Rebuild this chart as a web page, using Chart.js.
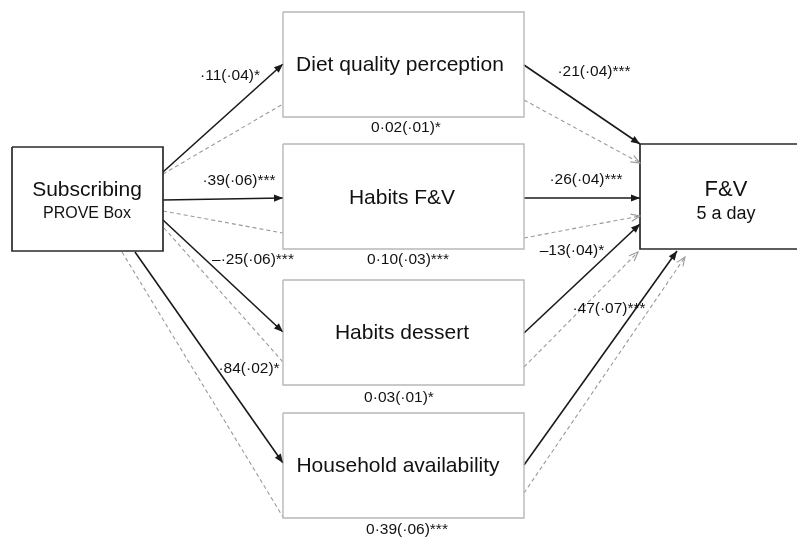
<!DOCTYPE html>
<html>
<head>
    <title>Path model: Subscribing PROVE Box to F&V 5 a day</title>
    <script src="https://cdn.jsdelivr.net/npm/chart.js@4.4.1/dist/chart.umd.min.js"></script>
    <style>
        html, body {
            margin: 0;
            padding: 0;
            background-color: white;
        }
        .chart-container {
            width: 797px;
            height: 537px;
        }
    </style>
</head>
<body>
    <div class="chart-container">
        <canvas id="pathChart"></canvas>
    </div>

    <script>
        // boxes of the path model (diagram units, y grows downwards)
        const boxLabels = ['Subscribing', 'Diet quality perception', 'Habits F&V', 'Habits dessert', 'Household availability', 'F&V'];
        const boxSubLabels = ['PROVE Box', '', '', '', '', '5 a day'];
        const boxLeft = [12, 283, 283, 283, 283, 640];
        const boxRight = [163, 524, 524, 524, 524, 802];
        const boxTop = [147, 12, 144, 280, 413, 144];
        const boxBottom = [251, 117, 249, 385, 518, 249];
        const boxTextX = [87, 400, 402, 402, 398, 726];
        const boxTextY = [190, 65, 198, 333, 466, 190];

        // direct paths (solid) and indirect/ci paths (dashed)
        const solidFrom = [[163, 172], [163, 200], [163, 220], [135, 252], [524, 65], [524, 198], [524, 333], [524, 465]];
        const solidTo = [[283, 64], [283, 198], [283, 332], [283, 463], [640, 144], [640, 198], [640, 224], [677, 251]];
        const dashFrom = [[163, 174], [163, 211], [164, 228], [122, 252], [524, 100], [524, 238], [524, 367], [524, 493]];
        const dashTo = [[283, 104], [283, 233], [283, 362], [283, 517], [640, 163], [640, 216], [638, 252], [685, 257]];
        const dashHead = [false, false, false, false, true, true, true, true];

        // coefficient labels
        const coefText = ['·11(·04)*', '·39(·06)***', '–·25(·06)***', '·84(·02)*', '·21(·04)***', '·26(·04)***', '–13(·04)*', '·47(·07)***',
                          '0·02(·01)*', '0·10(·03)***', '0·03(·01)*', '0·39(·06)***'];
        const coefX = [230, 239, 253, 249, 594, 586, 572, 609, 406, 408, 399, 407];
        const coefY = [76, 181, 260, 369, 72, 180, 251, 309, 128, 260, 398, 530];

        const SOLID = '#1a1a1a';
        const DASH = '#9a9a9a';

        const datasets = [];

        boxLabels.forEach((name, i) => {
            const outer = (i === 0 || i === 5);
            datasets.push({
                label: name,
                data: [
                    { x: boxLeft[i], y: boxTop[i] },
                    { x: boxRight[i], y: boxTop[i] },
                    { x: boxRight[i], y: boxBottom[i] },
                    { x: boxLeft[i], y: boxBottom[i] },
                    { x: boxLeft[i], y: boxTop[i] }
                ],
                showLine: true,
                borderColor: outer ? '#2a2a2a' : '#b8b8b8',
                borderWidth: outer ? 1.7 : 1.4,
                pointRadius: 0,
                tension: 0,
                fill: false,
                kind: 'box'
            });
        });

        solidFrom.forEach((p, i) => {
            datasets.push({
                data: [{ x: p[0], y: p[1] }, { x: solidTo[i][0], y: solidTo[i][1] }],
                showLine: true,
                borderColor: SOLID,
                borderWidth: 1.6,
                pointRadius: 0,
                kind: 'solid'
            });
        });

        dashFrom.forEach((p, i) => {
            datasets.push({
                data: [{ x: p[0], y: p[1] }, { x: dashTo[i][0], y: dashTo[i][1] }],
                showLine: true,
                borderColor: DASH,
                borderWidth: 1.1,
                borderDash: [4, 3],
                pointRadius: 0,
                kind: 'dash',
                head: dashHead[i]
            });
        });

        // arrow heads and text, drawn through the chart scales
        const diagramPlugin = {
            id: 'diagram',
            afterDatasetsDraw(chart) {
                const ctx = chart.ctx;
                const xs = chart.scales.x;
                const ys = chart.scales.y;

                chart.data.datasets.forEach(ds => {
                    if (ds.kind === 'box') return;
                    if (ds.kind === 'dash' && !ds.head) return;
                    const a = ds.data[0], b = ds.data[1];
                    const x1 = xs.getPixelForValue(a.x), y1 = ys.getPixelForValue(a.y);
                    const x2 = xs.getPixelForValue(b.x), y2 = ys.getPixelForValue(b.y);
                    const ang = Math.atan2(y2 - y1, x2 - x1);
                    const len = 9, half = 3.6;
                    const bx = x2 - len * Math.cos(ang), by = y2 - len * Math.sin(ang);
                    const px = -Math.sin(ang) * half, py = Math.cos(ang) * half;
                    ctx.save();
                    if (ds.kind === 'solid') {
                        ctx.fillStyle = SOLID;
                        ctx.beginPath();
                        ctx.moveTo(x2, y2);
                        ctx.lineTo(bx + px, by + py);
                        ctx.lineTo(bx - px, by - py);
                        ctx.closePath();
                        ctx.fill();
                    } else {
                        ctx.strokeStyle = DASH;
                        ctx.lineWidth = 1.1;
                        ctx.beginPath();
                        ctx.moveTo(bx + px, by + py);
                        ctx.lineTo(x2, y2);
                        ctx.lineTo(bx - px, by - py);
                        ctx.stroke();
                    }
                    ctx.restore();
                });

                ctx.save();
                ctx.textAlign = 'center';
                ctx.textBaseline = 'middle';
                ctx.fillStyle = '#111';

                boxLabels.forEach((name, i) => {
                    const cx = xs.getPixelForValue(boxTextX[i]);
                    const cy = ys.getPixelForValue(boxTextY[i]);
                    ctx.font = (i === 5 ? '22px' : '21px') + ' "Liberation Sans", Arial, sans-serif';
                    ctx.fillText(name, cx, cy);
                    if (boxSubLabels[i]) {
                        ctx.font = (i === 5 ? '18px' : '16px') + ' "Liberation Sans", Arial, sans-serif';
                        ctx.fillText(boxSubLabels[i], cx, cy + 24);
                    }
                });

                ctx.font = '15.5px "Liberation Sans", Arial, sans-serif';
                coefText.forEach((t, i) => {
                    ctx.fillText(t, xs.getPixelForValue(coefX[i]), ys.getPixelForValue(coefY[i]));
                });
                ctx.restore();
            }
        };

        new Chart(document.getElementById('pathChart'), {
            type: 'scatter',
            data: { datasets: datasets },
            options: {
                responsive: true,
                maintainAspectRatio: false,
                animation: false,
                layout: { padding: 0 },
                plugins: {
                    legend: { display: false },
                    tooltip: { enabled: false }
                },
                scales: {
                    x: { type: 'linear', min: 0, max: 797, display: false },
                    y: { type: 'linear', min: 0, max: 537, reverse: true, display: false }
                }
            },
            plugins: [diagramPlugin]
        });
    </script>
</body>
</html>
